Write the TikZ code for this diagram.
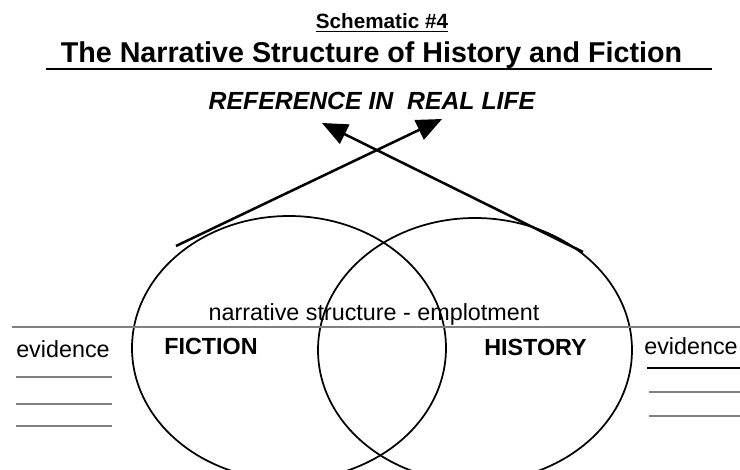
\documentclass[tikz,border=0pt]{standalone}
\usepackage{fontspec}
\setmainfont{Liberation Sans}
\usetikzlibrary{arrows.meta,shapes.geometric}
\begin{document}
\begin{tikzpicture}[x=0.75pt, y=-0.75pt, every node/.style={inner sep=0pt}]
\tikzstyle{plain}=[font=\fontsize{17.5}{21}\selectfont]
\tikzstyle{heavy}=[font=\fontsize{17.5}{21}\selectfont\bfseries]
\tikzstyle{ring}=[draw, ellipse, line width=1.3pt, minimum width=235.5pt, minimum height=198pt]
\tikzstyle{pointer}=[line width=1.9pt, -{Triangle[length=19pt,width=16pt]}]
\tikzstyle{rule}=[gray, line width=0.8pt]
\useasboundingbox (0,0) rectangle (740,470);
% headings
\node (sch) [anchor=base, font=\fontsize{15.5}{18}\selectfont\bfseries] at (382,29) {\underline{Schematic \#4}};
\node (title) [anchor=base, font=\fontsize{21.5}{25}\selectfont\bfseries] at (371.5,63) {The Narrative Structure of History and Fiction};
\draw [line width=1.5pt] (46,69) -- (712,69);
\node (ref) [anchor=base, font=\fontsize{18.6}{22}\selectfont\bfseries\itshape] at (372,110) {REFERENCE IN~~REAL LIFE};
% the two circles
\node (fic) [ring] at (289,348) {};
\node (his) [ring] at (475,350) {};
% pointers up to real life
\coordinate (fictail) at (176,246);
\coordinate (histail) at (583,252);
\coordinate (lefttip) at (322,123);
\coordinate (righttip) at (442,119);
\draw [pointer] (fictail) -- (righttip);
\draw [pointer] (histail) -- (lefttip);
% emplotment line
\draw [rule] (12,327) -- (740,327);
\node (emp) [plain, anchor=base] at (374,321) {narrative structure - emplotment};
\node (ficlbl) [heavy, anchor=base west] at (164,355) {FICTION};
\node (hislbl) [heavy, anchor=base east] at (587,356) {HISTORY};
% evidence
\node (evl) [plain, anchor=base west] at (16,358) {evidence};
\node (evr) [plain, anchor=base east] at (738,355) {evidence};
\draw [rule] (16,377) -- (112,377);
\draw [rule] (16,404) -- (112,404);
\draw [rule] (16,426) -- (112,426);
\draw [rule, black] (647,368) -- (740,368);
\draw [rule] (649,392) -- (740,392);
\draw [rule] (649,416) -- (740,416);
\end{tikzpicture}
\end{document}
